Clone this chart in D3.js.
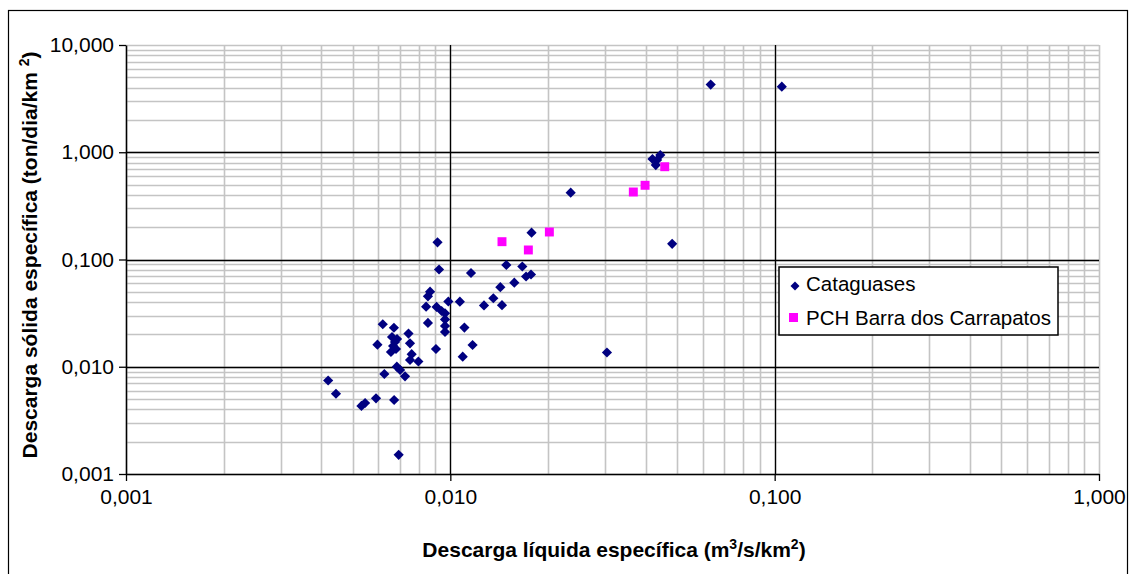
<!DOCTYPE html>
<html>
<head>
<meta charset="utf-8">
<script src="https://cdn.jsdelivr.net/npm/d3@7"></script>
<style>
  body { margin: 0; background: #fff; }
  text { font-family: Arial, "Liberation Sans", sans-serif; fill: #000; }
</style>
</head>
<body>
<div id="chart"></div>
<script>
// Cataguases: specific liquid discharge (m3/s/km2) and specific solid discharge (ton/dia/km2)
var catX = [0.1052, 0.0635, 0.0444, 0.0420, 0.0430, 0.0434, 0.0235, 0.0178, 0.0483,
            0.00913, 0.00923, 0.01158, 0.01488, 0.01667, 0.01712, 0.01773, 0.01575, 0.01426,
            0.01357, 0.01270, 0.01443, 0.00866, 0.00853, 0.00842, 0.00907, 0.00940, 0.00986,
            0.00963, 0.00963, 0.00963, 0.00963, 0.01070, 0.00853, 0.01105, 0.01171, 0.00903,
            0.01092, 0.00619, 0.00670, 0.00743, 0.00751, 0.00596, 0.00661, 0.00675, 0.00666,
            0.00680, 0.00656, 0.00685, 0.00760, 0.00751, 0.00797, 0.00684, 0.00700, 0.00626,
            0.00725, 0.00420, 0.00444, 0.00532, 0.00546, 0.00590, 0.00671, 0.00693, 0.0304];
var catY = [4.09, 4.28, 0.943, 0.865, 0.760, 0.847, 0.420, 0.178, 0.140,
            0.1447, 0.0807, 0.0748, 0.0889, 0.0860, 0.0694, 0.0725, 0.0608, 0.0552,
            0.0435, 0.0373, 0.0375, 0.0501, 0.0454, 0.0363, 0.0361, 0.0331, 0.0406,
            0.0315, 0.0276, 0.0240, 0.0211, 0.0404, 0.0256, 0.0232, 0.01595, 0.01464,
            0.01241, 0.0249, 0.0231, 0.0204, 0.01655, 0.01606, 0.01894, 0.01702, 0.01561,
            0.01464, 0.01373, 0.01815, 0.01309, 0.01156, 0.01119, 0.01001, 0.00933, 0.00856,
            0.00815, 0.00744, 0.00560, 0.00431, 0.00459, 0.00508, 0.00490, 0.00151, 0.01358];

// PCH Barra dos Carrapatos
var pchX = [0.01443, 0.01740, 0.02020, 0.03666, 0.03985, 0.04582];
var pchY = [0.1466, 0.1227, 0.1805, 0.426, 0.492, 0.733];

var seriesNames = ["Cataguases", "PCH Barra dos Carrapatos"];
var xTickVals = [0.001, 0.01, 0.1, 1];
var xTickLabels = ["0,001", "0,010", "0,100", "1,000"];
var yTickVals = [0.001, 0.01, 0.1, 1, 10];
var yTickLabels = ["0,001", "0,010", "0,100", "1,000", "10,000"];

var width = 1129, height = 574;
var plotL = 126, plotR = 1099, plotT = 45, plotB = 474;

var svg = d3.select("#chart").append("svg").attr("width", width).attr("height", height);

// outer chart frame
svg.append("rect").attr("x", 8.5).attr("y", 10.5).attr("width", 1119).attr("height", 600)
    .attr("fill", "#fff").attr("stroke", "#000").attr("stroke-width", 1.2);

var x = d3.scaleLog().domain([0.001, 1]).range([plotL, plotR]);
var y = d3.scaleLog().domain([0.001, 10]).range([plotB, plotT]);

// minor grid
var g = svg.append("g");
g.selectAll("line.vminor").data(x.ticks()).enter().append("line")
    .attr("x1", function(d) { return Math.round(x(d)) + 0.5; })
    .attr("x2", function(d) { return Math.round(x(d)) + 0.5; })
    .attr("y1", plotT).attr("y2", plotB)
    .attr("stroke", "#c4c4c4").attr("stroke-width", 1.6);
g.selectAll("line.hminor").data(y.ticks()).enter().append("line")
    .attr("y1", function(d) { return Math.round(y(d)) + 0.5; })
    .attr("y2", function(d) { return Math.round(y(d)) + 0.5; })
    .attr("x1", plotL).attr("x2", plotR)
    .attr("stroke", "#c4c4c4").attr("stroke-width", 1.6);

// major grid (inner decades)
g.selectAll("line.vmajor").data(xTickVals.slice(1, -1)).enter().append("line")
    .attr("x1", function(d) { return Math.round(x(d)) + 0.5; })
    .attr("x2", function(d) { return Math.round(x(d)) + 0.5; })
    .attr("y1", plotT).attr("y2", plotB)
    .attr("stroke", "#000").attr("stroke-width", 1.3);
g.selectAll("line.hmajor").data(yTickVals.slice(1, -1)).enter().append("line")
    .attr("y1", function(d) { return Math.round(y(d)) + 0.5; })
    .attr("y2", function(d) { return Math.round(y(d)) + 0.5; })
    .attr("x1", plotL).attr("x2", plotR)
    .attr("stroke", "#000").attr("stroke-width", 1.3);

// axes
var xAxis = d3.axisBottom(x).tickValues(xTickVals).tickSize(7).tickSizeOuter(0)
    .tickFormat(function(d, i) { return xTickLabels[i]; });
var yAxis = d3.axisLeft(y).tickValues(yTickVals).tickSize(7).tickSizeOuter(0)
    .tickFormat(function(d, i) { return yTickLabels[i]; });

var gx = svg.append("g").attr("transform", "translate(0," + plotB + ")").call(xAxis);
var gy = svg.append("g").attr("transform", "translate(" + plotL + ",0)").call(yAxis);
[gx, gy].forEach(function(a) {
    a.select(".domain").attr("stroke", "#000").attr("stroke-width", 1.5);
    a.selectAll(".tick line").attr("stroke", "#000").attr("stroke-width", 1.3);
    a.selectAll(".tick text").attr("font-family", "Arial, 'Liberation Sans', sans-serif")
        .attr("font-size", 21).attr("fill", "#000");
});
gx.selectAll(".tick text").attr("dy", "0.95em");
gy.selectAll(".tick text").attr("x", -12);

// axis titles
var xt = svg.append("text").attr("x", 614).attr("y", 557).attr("text-anchor", "middle")
    .attr("font-size", 21).attr("font-weight", "bold");
xt.append("tspan").text("Descarga líquida específica (m");
xt.append("tspan").attr("dy", -8).attr("font-size", 14).text("3");
xt.append("tspan").attr("dy", 8).text("/s/km");
xt.append("tspan").attr("dy", -8).attr("font-size", 14).text("2");
xt.append("tspan").attr("dy", 8).text(")");

var yt = svg.append("text").attr("transform", "translate(37,255) rotate(-90)")
    .attr("text-anchor", "middle").attr("font-size", 21).attr("font-weight", "bold");
yt.append("tspan").text("Descarga sólida específica (ton/dia/km ");
yt.append("tspan").attr("dy", -8).attr("font-size", 14).text("2");
yt.append("tspan").attr("dy", 8).text(")");

// points
var diamond = d3.symbol().type(d3.symbolSquare).size(52);
var square = d3.symbol().type(d3.symbolSquare).size(80);

svg.append("g").selectAll("path").data(catX).enter().append("path")
    .attr("d", diamond)
    .attr("transform", function(d, i) { return "translate(" + x(d) + "," + y(catY[i]) + ") rotate(45)"; })
    .attr("fill", "#000080");

svg.append("g").selectAll("path").data(pchX).enter().append("path")
    .attr("d", square)
    .attr("transform", function(d, i) { return "translate(" + x(d) + "," + y(pchY[i]) + ")"; })
    .attr("fill", "#ff00ff");

// legend
var lg = svg.append("g").attr("transform", "translate(779,267)");
lg.append("rect").attr("width", 279).attr("height", 68)
    .attr("fill", "#fff").attr("stroke", "#000").attr("stroke-width", 1.5);
lg.append("path").attr("d", d3.symbol().type(d3.symbolSquare).size(40))
    .attr("transform", "translate(16,19) rotate(45)").attr("fill", "#000080");
lg.append("rect").attr("x", 10).attr("y", 46).attr("width", 9).attr("height", 9).attr("fill", "#ff00ff");
lg.append("text").attr("x", 27).attr("y", 24).attr("font-size", 20.5).text(seriesNames[0]);
lg.append("text").attr("x", 27).attr("y", 58).attr("font-size", 20.5).text(seriesNames[1]);
</script>
</body>
</html>
